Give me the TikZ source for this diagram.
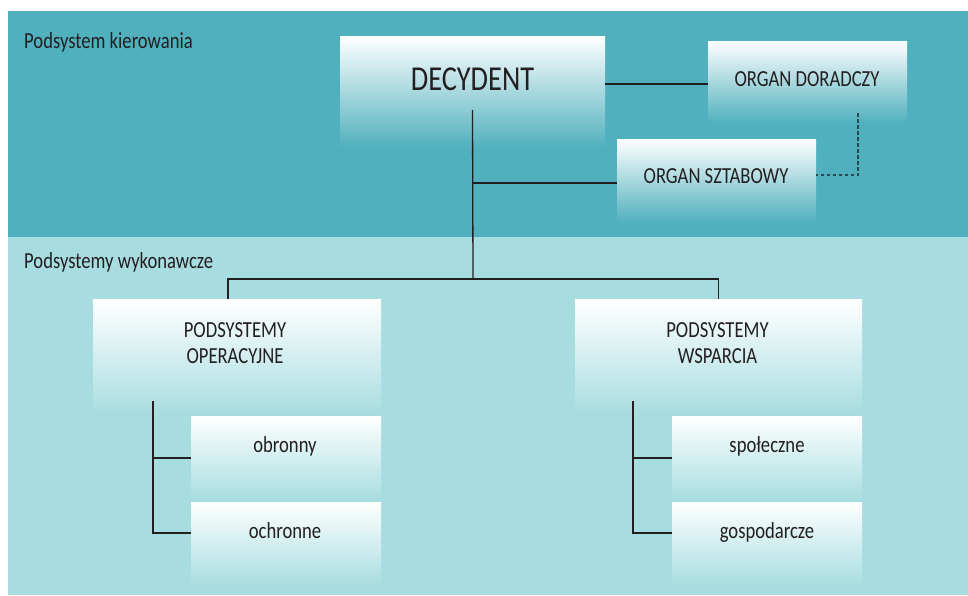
\documentclass[tikz,border=0pt]{standalone}
\usepackage{fontspec}
\setmainfont[FakeStretch=0.81]{Carlito}
\begin{document}
\begin{tikzpicture}[x=1pt,y=-1pt]
\definecolor{topbg}{HTML}{50B0BD}
\definecolor{lowbg}{HTML}{A7DDE0}
\definecolor{ink}{HTML}{231F20}
\definecolor{dashink}{HTML}{2A4850}
\tikzset{
  boxtop/.style={shade, top color=white, bottom color=topbg, inner sep=0pt, outer sep=0pt, anchor=north west},
  boxlow/.style={shade, top color=white, bottom color=lowbg, inner sep=0pt, outer sep=0pt, anchor=north west},
  lbl/.style={text=ink, font=\fontsize{23}{26}\selectfont, inner sep=0pt, anchor=base},
  biglbl/.style={text=ink, font=\fontsize{35}{40}\selectfont, inner sep=0pt, anchor=base},
  conn/.style={draw=ink, line width=1.3pt},
  dconn/.style={draw=dashink, line width=1.3pt, dash pattern=on 3.5pt off 2.5pt},
}
\useasboundingbox (0,0) rectangle (968,595);
\fill[white] (0,0) rectangle (968,595);
\fill[lowbg] (8,11) rectangle (968,595);
\fill[topbg] (8,11) rectangle (968,237);

% section labels
\node[lbl, anchor=base west] (kier) at (24,48) {Podsystem kierowania};
\node[lbl, anchor=base west] (wyk) at (24,268) {Podsystemy wykonawcze};

% boxes
\node[boxtop, minimum width=265pt, minimum height=112pt] (dec) at (340,36) {};
\node[boxtop, minimum width=199pt, minimum height=82pt] (dor) at (708,41) {};
\node[boxtop, minimum width=199pt, minimum height=83pt] (szt) at (617,139) {};
\node[boxlow, minimum width=288pt, minimum height=114pt] (ops) at (93,299) {};
\node[boxlow, minimum width=287pt, minimum height=114pt] (wsp) at (575,299) {};
\node[boxlow, minimum width=190pt, minimum height=84pt] (obr) at (191,416) {};
\node[boxlow, minimum width=190pt, minimum height=84pt] (och) at (191,502) {};
\node[boxlow, minimum width=190pt, minimum height=84pt] (spo) at (672,416) {};
\node[boxlow, minimum width=190pt, minimum height=83pt] (gos) at (672,502) {};

% connectors
\draw[conn] (dec.east |- 0,84) -- (dor.west |- 0,84);
\draw[conn] (dec.center |- 0,110) coordinate (decfoot) -- (473,279) coordinate (bus);
\draw[conn] (decfoot |- 0,183) -- (szt.west |- 0,183);
\draw[dconn] (858,113) coordinate (dorfoot) -- (858,175) -- (szt.east |- 0,175);
\draw[conn] (bus) -- (228,279) -- (ops.north -| 228,0);
\draw[conn] (bus) -- (wsp.north |- bus) -- (wsp.north);
\coordinate (opsfoot) at (153,401);
\coordinate (wspfoot) at (633,401);
\draw[conn] (opsfoot) -- (opsfoot |- 0,533) -- (och.west |- 0,533);
\draw[conn] (opsfoot |- 0,458) -- (obr.west |- 0,458);
\draw[conn] (wspfoot) -- (wspfoot |- 0,533) -- (gos.west |- 0,533);
\draw[conn] (wspfoot |- 0,458) -- (spo.west |- 0,458);

% texts
\node[biglbl] (decT) at (472.5,90) {DECYDENT};
\node[lbl] (dorT) at (807,86) {ORGAN DORADCZY};
\node[lbl] (sztT) at (716,183) {ORGAN SZTABOWY};
\node[lbl, align=center] (opsT) at (235,363) {PODSYSTEMY\\OPERACYJNE};
\node[lbl, align=center] (wspT) at (717.5,363) {PODSYSTEMY\\WSPARCIA};
\node[lbl] (obrT) at (285,452) {obronny};
\node[lbl] (ochT) at (285,538) {ochronne};
\node[lbl] (spoT) at (767,452) {społeczne};
\node[lbl] (gosT) at (767,538) {gospodarcze};
\end{tikzpicture}
\end{document}
